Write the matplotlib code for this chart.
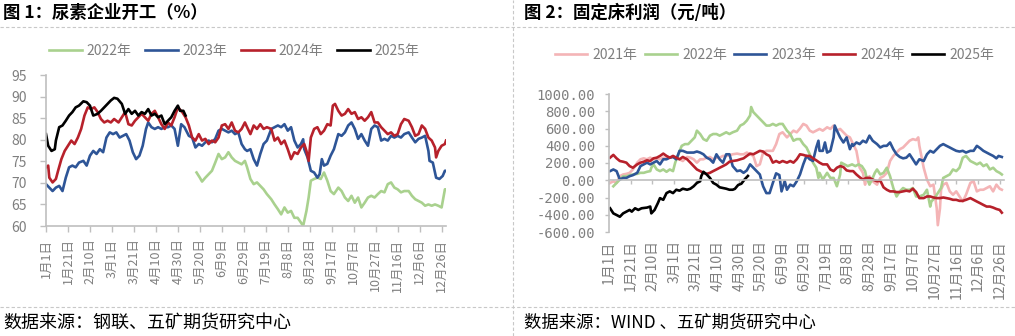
import matplotlib
matplotlib.use("Agg")
import matplotlib.pyplot as plt
from matplotlib.lines import Line2D
from matplotlib.ticker import FormatStrFormatter

plt.rcParams['font.family'] = ['Noto Sans CJK SC', 'DejaVu Sans']

# ---- shared x axis (day of year, leap-year calendar) ----
tick_days = list(range(0, 361, 20))
tick_labels = ["1月1日", "1月21日", "2月10日", "3月1日", "3月21日", "4月10日", "4月30日",
               "5月20日", "6月9日", "6月29日", "7月19日", "8月8日", "8月28日", "9月17日",
               "10月7日", "10月27日", "11月16日", "12月6日", "12月26日"]

# ---- chart 1: urea plant operating rate (%) ----
op22_day = [137, 140, 142, 145, 148, 151, 154, 157, 160, 163, 166, 169, 172, 175, 178, 181, 183,
            186, 189, 192, 195, 198, 201, 205, 208, 211, 214, 217, 220, 223, 226, 229, 232, 234,
            237, 239, 241, 244, 247, 250, 253, 256, 259, 262, 266, 269, 272, 275, 278, 281, 284,
            287, 290, 293, 296, 299, 302, 305, 308, 311, 314, 317, 320, 323, 326, 330, 333, 336,
            339, 342, 345, 348, 351, 354, 357, 360, 363, 364]
op22_val = [72.4, 71.2, 70.3, 71.2, 72.0, 72.8, 74.7, 76.7, 75.5, 75.9, 77.1, 75.9, 75.1, 74.7,
            74.3, 75.1, 73.6, 70.9, 69.7, 70.1, 69.3, 68.5, 67.4, 66.2, 65.0, 63.9, 62.7, 64.3,
            63.1, 63.5, 61.9, 61.9, 60.8, 60.0, 63.5, 66.6, 70.5, 70.9, 71.2, 70.9, 72.4, 70.5,
            68.1, 67.4, 68.9, 68.1, 66.6, 65.8, 67.0, 65.4, 66.6, 64.3, 65.4, 66.6, 67.0, 66.6,
            67.4, 68.1, 67.8, 69.7, 70.1, 68.9, 68.5, 67.8, 68.1, 68.1, 67.0, 66.2, 65.8, 65.4,
            64.7, 65.0, 64.7, 65.0, 64.7, 64.3, 68.5, 68.5]

op23_day = [0, 3, 6, 9, 12, 15, 18, 21, 24, 27, 30, 34, 37, 40, 43, 46, 49, 52, 55, 58, 61, 64,
            67, 70, 73, 76, 79, 82, 85, 88, 91, 93, 96, 99, 102, 105, 108, 111, 114, 117, 120,
            123, 126, 130, 133, 136, 139, 142, 145, 148, 151, 154, 157, 160, 163, 166, 169, 172,
            175, 178, 181, 183, 186, 189, 192, 195, 198, 201, 205, 208, 211, 214, 217, 220, 223,
            226, 229, 232, 234, 235, 238, 241, 244, 247, 249, 251, 253, 256, 259, 262, 266, 269,
            272, 275, 278, 281, 284, 287, 290, 293, 296, 299, 302, 305, 308, 311, 314, 317, 320,
            323, 326, 330, 333, 336, 339, 342, 345, 348, 349, 352, 355, 358, 361, 363, 364]
op23_val = [69.7, 68.9, 68.1, 68.9, 69.3, 68.1, 71.2, 73.6, 74.0, 73.6, 74.7, 75.1, 74.0, 76.3,
            77.4, 76.7, 77.8, 77.1, 80.5, 81.7, 81.3, 81.7, 80.5, 80.9, 81.3, 79.8, 77.1, 75.5,
            76.3, 78.6, 82.5, 84.0, 82.9, 82.5, 82.9, 82.5, 82.9, 82.9, 83.3, 82.5, 78.6, 83.6,
            82.9, 80.9, 80.5, 78.2, 79.0, 78.6, 79.4, 79.8, 79.4, 80.2, 82.1, 82.5, 82.1, 81.7,
            82.1, 81.3, 81.7, 79.0, 77.8, 77.4, 77.8, 75.5, 74.0, 76.7, 79.0, 79.8, 82.5, 82.9,
            83.3, 82.9, 83.6, 82.1, 82.9, 79.8, 78.2, 79.0, 80.1, 77.8, 75.9, 72.8, 72.4, 71.2,
            72.0, 75.5, 74.0, 74.4, 76.3, 77.8, 81.3, 80.9, 81.7, 83.3, 84.0, 82.5, 80.2, 81.3,
            79.8, 78.6, 82.5, 83.3, 82.9, 79.8, 80.2, 79.8, 80.9, 80.5, 80.9, 80.5, 81.3, 81.7,
            80.5, 79.4, 80.2, 80.5, 80.9, 77.4, 75.1, 74.7, 71.2, 70.9, 71.6, 72.8, 72.8]

op24_day = [0, 2, 3, 6, 9, 11, 14, 17, 20, 23, 26, 29, 32, 35, 38, 41, 44, 47, 50, 53, 56, 59,
            62, 66, 69, 72, 75, 78, 81, 84, 87, 90, 93, 96, 99, 102, 105, 108, 111, 114, 117,
            120, 124, 127, 130, 133, 136, 139, 142, 145, 148, 151, 154, 157, 160, 163, 166, 169,
            172, 175, 178, 181, 183, 186, 189, 192, 195, 198, 201, 205, 208, 211, 214, 217, 220,
            223, 226, 229, 232, 235, 237, 239, 241, 244, 247, 250, 253, 256, 259, 261, 263, 266,
            269, 272, 275, 278, 281, 284, 287, 290, 293, 296, 299, 302, 305, 308, 311, 314, 317,
            320, 323, 326, 330, 333, 336, 339, 342, 345, 348, 351, 354, 355, 357, 360, 363, 364]
op24_val = [73.6, 74.0, 71.2, 70.1, 70.9, 72.8, 75.5, 77.4, 78.6, 79.8, 79.0, 80.5, 82.5, 85.6,
            87.5, 87.1, 87.5, 86.4, 84.8, 84.0, 84.4, 84.0, 84.8, 84.0, 85.2, 86.4, 83.6, 83.3,
            84.4, 85.2, 86.0, 85.2, 84.4, 86.0, 86.7, 85.2, 83.6, 82.5, 84.0, 83.3, 85.2, 87.5,
            86.4, 85.2, 83.3, 80.5, 79.8, 81.3, 79.8, 80.2, 79.0, 79.8, 79.4, 80.5, 83.3, 83.6,
            82.5, 84.0, 82.1, 81.7, 82.5, 84.0, 82.9, 81.3, 83.3, 82.5, 83.6, 82.5, 82.9, 82.5,
            79.8, 80.5, 79.0, 79.8, 77.8, 75.5, 77.1, 76.7, 78.2, 79.0, 77.4, 75.1, 80.5, 82.5,
            82.9, 81.3, 82.1, 83.6, 83.3, 87.9, 88.3, 86.7, 85.6, 86.0, 87.1, 86.0, 86.4, 84.8,
            85.2, 84.4, 85.2, 86.4, 84.0, 84.0, 82.9, 82.1, 81.3, 81.7, 80.9, 81.3, 83.6, 84.8,
            84.4, 82.9, 80.9, 81.3, 83.3, 82.5, 80.5, 79.8, 78.2, 75.9, 77.4, 78.6, 79.0, 79.8]

op25_day = [0, 2, 5, 8, 9, 12, 15, 18, 21, 24, 27, 30, 34, 37, 40, 43, 47, 50, 53, 56, 59, 62,
            65, 69, 72, 75, 78, 81, 84, 87, 90, 93, 96, 99, 102, 105, 108, 111, 114, 117, 120,
            122, 125, 127]
op25_val = [81.3, 78.6, 77.4, 77.8, 79.8, 82.9, 83.3, 84.4, 85.6, 86.4, 87.5, 87.9, 88.9, 88.7,
            87.9, 85.6, 86.0, 86.7, 87.5, 88.3, 89.1, 89.7, 89.5, 88.3, 86.0, 87.1, 86.0, 86.7,
            85.6, 86.4, 86.0, 87.1, 85.6, 86.0, 85.2, 85.6, 83.6, 84.4, 85.2, 86.7, 87.9, 86.7,
            86.7, 85.6]

# ---- chart 2: fixed-bed profit (yuan/t) ----
pf21_day = [1, 4, 7, 10, 13, 16, 19, 22, 26, 29, 32, 35, 38, 41, 44, 47, 50, 53, 56, 59, 62, 65,
            68, 72, 75, 78, 81, 84, 87, 90, 93, 96, 99, 102, 105, 108, 111, 114, 118, 121, 124,
            127, 130, 133, 136, 139, 142, 145, 148, 151, 154, 157, 160, 164, 167, 170, 173, 176,
            179, 182, 185, 188, 191, 194, 197, 201, 204, 207, 210, 213, 216, 219, 222, 225, 228,
            230, 231, 234, 236, 237, 239, 240, 243, 247, 250, 253, 256, 259, 262, 265, 268, 271,
            274, 277, 280, 283, 285, 286, 290, 293, 296, 299, 302, 303, 305, 306, 308, 311, 314,
            317, 320, 323, 326, 329, 333, 336, 339, 342, 345, 348, 351, 354, 357, 360, 362]
pf21_val = [-31, -12, -31, 47, 67, 74, 86, 125, 204, 243, 254, 243, 262, 243, 254, 243, 262, 254,
            262, 270, 254, 243, 223, 270, 262, 243, 204, 243, 243, 262, 270, 243, 262, 262, 282,
            282, 290, 301, 309, 301, 301, 321, 301, 282, 164, 184, 321, 341, 341, 341, 419, 536,
            556, 497, 536, 575, 556, 600, 653, 634, 575, 556, 575, 595, 575, 614, 595, 634, 575,
            595, 556, 517, 497, 419, 341, 204, 145, 86, -51, 47, -12, 47, -12, -51, 27, 47, 86,
            223, 282, 321, 360, 380, 419, 458, 477, 466, 497, 399, 145, 8, -70, -51, -325, -521,
            -325, -110, -51, -31, -129, -168, -129, -188, -247, -168, -31, -12, -129, -110, -110,
            -90, -70, -129, -51, -98, -110]

pf22_day = [4, 7, 10, 13, 16, 19, 22, 26, 29, 32, 35, 38, 39, 41, 44, 47, 50, 53, 56, 59, 61, 64,
            67, 70, 73, 76, 79, 81, 84, 87, 90, 93, 96, 99, 102, 105, 108, 111, 114, 118, 121,
            124, 127, 130, 131, 133, 136, 139, 142, 145, 148, 151, 154, 157, 160, 164, 167, 170,
            173, 176, 179, 182, 185, 188, 191, 193, 194, 197, 201, 204, 207, 210, 213, 214, 217,
            220, 224, 227, 230, 233, 236, 237, 240, 243, 245, 247, 250, 253, 256, 259, 262, 265,
            268, 271, 274, 277, 280, 283, 286, 290, 293, 296, 297, 300, 303, 306, 308, 311, 314,
            317, 320, 323, 326, 329, 333, 336, 339, 342, 345, 348, 351, 354, 357, 360, 362]
pf22_val = [-70, -31, 8, 47, 47, 59, 67, 74, 86, 86, 98, 106, 145, 184, 125, 106, 125, 98, 125,
            106, 204, 301, 399, 419, 419, 458, 497, 575, 536, 477, 458, 517, 536, 536, 517, 536,
            556, 536, 556, 575, 634, 653, 692, 751, 849, 790, 751, 712, 673, 634, 634, 653, 634,
            653, 653, 575, 536, 458, 477, 477, 419, 380, 301, 204, 145, 27, 86, 8, 86, 27, 27,
            -70, 67, 204, 184, 164, 184, 164, 184, 164, 106, 47, -51, 27, 86, 125, 67, 86, 145,
            47, -90, -188, -129, -90, -110, -110, -90, -188, -188, -168, -110, -305, -247, -207,
            -149, -90, 27, 47, 67, 125, 106, 145, 262, 282, 223, 204, 184, 204, 164, 184, 125,
            145, 106, 86, 67]

pf23_day = [1, 4, 7, 10, 13, 16, 19, 22, 26, 29, 32, 35, 38, 41, 44, 47, 50, 53, 56, 59, 62, 65,
            68, 72, 75, 78, 81, 84, 87, 90, 93, 96, 99, 102, 105, 108, 111, 114, 118, 121, 124,
            127, 130, 133, 136, 139, 142, 145, 148, 151, 154, 157, 159, 162, 164, 167, 170, 173,
            176, 179, 182, 185, 188, 191, 193, 194, 197, 199, 201, 204, 207, 208, 210, 213, 216,
            219, 222, 224, 225, 228, 231, 234, 237, 240, 243, 247, 250, 253, 256, 259, 262, 265,
            268, 271, 274, 277, 280, 283, 286, 290, 293, 296, 299, 302, 305, 308, 311, 314, 317,
            320, 323, 326, 329, 333, 336, 339, 342, 345, 348, 351, 354, 357, 359, 362]
pf23_val = [106, 125, 106, 8, 27, 27, 47, 59, 86, 164, 184, 204, 184, 204, 223, 184, 243, 243,
            262, 270, 243, 341, 341, 321, 321, 321, 333, 321, 301, 262, 243, 204, 301, 243, 204,
            301, 301, 164, 106, 114, 86, 114, 184, 145, 106, 67, -70, -149, -149, -31, 80, 60,
            -129, -12, -110, -51, -70, -12, 67, 184, 282, 243, 223, 380, 458, 341, 341, 438, 321,
            341, 497, 634, 575, 497, 438, 497, 360, 419, 399, 438, 419, 458, 438, 517, 458, 419,
            380, 399, 399, 438, 360, 301, 270, 254, 262, 301, 243, 184, 243, 223, 301, 341, 321,
            360, 399, 419, 399, 380, 360, 341, 333, 341, 321, 341, 341, 399, 372, 341, 321, 301,
            282, 254, 282, 270]

pf24_day = [1, 4, 7, 10, 13, 16, 19, 22, 26, 29, 32, 35, 38, 41, 44, 47, 50, 53, 56, 59, 62, 65,
            68, 72, 75, 78, 81, 84, 87, 90, 93, 96, 99, 102, 105, 108, 111, 114, 118, 121, 124,
            127, 130, 133, 136, 139, 142, 145, 148, 151, 154, 157, 160, 164, 167, 170, 173, 176,
            179, 182, 185, 188, 191, 194, 197, 201, 204, 207, 210, 213, 216, 219, 222, 225, 228,
            231, 234, 237, 240, 243, 247, 250, 253, 256, 259, 262, 265, 268, 271, 274, 277, 280,
            283, 286, 290, 293, 296, 299, 302, 305, 308, 311, 314, 317, 320, 323, 326, 329, 333,
            336, 339, 342, 345, 348, 351, 354, 357, 360, 362]
pf24_val = [262, 294, 254, 223, 215, 204, 164, 145, 184, 204, 215, 231, 223, 254, 262, 282, 309,
            282, 262, 282, 262, 243, 270, 243, 204, 164, 125, 106, 86, 74, 86, 106, 125, 145, 164,
            184, 215, 223, 231, 243, 254, 282, 309, 301, 321, 341, 333, 301, 282, 204, 223, 204,
            223, 204, 223, 204, 243, 301, 294, 282, 282, 254, 231, 204, 184, 184, 125, 106, 145,
            164, 153, 114, 106, 106, 67, 35, 8, 27, 27, 8, -12, -4, -82, -110, -129, -129, -137,
            -137, -129, -121, -129, -98, -137, -207, -207, -188, -188, -200, -207, -207, -200,
            -207, -215, -227, -227, -239, -239, -227, -207, -227, -247, -266, -286, -305, -305,
            -317, -333, -344, -376]

pf25_day = [1, 4, 7, 10, 13, 16, 19, 21, 24, 27, 30, 35, 38, 39, 42, 45, 47, 50, 53, 56, 59, 62,
            65, 68, 72, 75, 78, 81, 84, 85, 87, 90, 93, 96, 99, 102, 105, 108, 111, 114, 116, 119,
            122, 125, 128]
pf25_val = [-325, -384, -403, -423, -384, -364, -344, -364, -325, -344, -325, -317, -305, -384,
            -344, -266, -207, -227, -149, -129, -149, -110, -121, -98, -110, -98, -70, -31, -12,
            47, 98, 67, 27, -31, -51, -82, -90, -98, -110, -110, -100, -55, -40, 10, 50]

C_PINK = "#F4B4B6"
C_GREEN = "#A9D18E"
C_BLUE = "#2E5597"
C_RED = "#B7212B"
C_BLACK = "#000000"
GRAY_TXT = "#7F7F7F"
GRAY_AX = "#BFBFBF"

W, H = 1015, 336
fig = plt.figure(figsize=(W / 100, H / 100), dpi=100)


def px_axes(x0, y0, x1, y1):
    return fig.add_axes([x0 / W, 1 - y1 / H, (x1 - x0) / W, (y1 - y0) / H])


def style_axes(ax):
    for s in ("top", "right"):
        ax.spines[s].set_visible(False)
    for s in ("left", "bottom"):
        ax.spines[s].set_color(GRAY_AX)
        ax.spines[s].set_linewidth(1.2)
    ax.set_xlim(0, 364)
    ax.tick_params(colors=GRAY_AX, labelcolor=GRAY_TXT, width=1.0)


def set_day_ticks(ax, size):
    ax.set_xticks(tick_days)
    ax.set_xticklabels(tick_labels)
    ax.tick_params(axis="x", labelrotation=90, labelsize=size, labelcolor=GRAY_TXT)


# ---- chart 1 ----
ax1 = px_axes(46, 75, 446, 226)
lw = 1.9
ax1.plot(op22_day, op22_val, color=C_GREEN, lw=lw, label="2022年")
ax1.plot(op23_day, op23_val, color=C_BLUE, lw=lw, label="2023年")
ax1.plot(op24_day, op24_val, color=C_RED, lw=lw, label="2024年")
ax1.plot(op25_day, op25_val, color=C_BLACK, lw=lw, label="2025年")
style_axes(ax1)
ax1.set_ylim(60, 95)
ax1.set_yticks(range(60, 96, 5))
ax1.tick_params(axis="y", length=4, pad=10, labelsize=10)
set_day_ticks(ax1, 9)
ax1.tick_params(axis="x", length=4, pad=5)
ax1.legend(loc="center", bbox_to_anchor=(234 / W, 1 - 51 / H), bbox_transform=fig.transFigure,
           ncol=4, frameon=False, fontsize=10, labelcolor=GRAY_TXT, handlelength=2.4,
           handletextpad=0.3, columnspacing=1.0)

# ---- chart 2 ----
ax2 = px_axes(609, 94, 1004, 232)
ax2.plot(pf21_day, pf21_val, color=C_PINK, lw=lw, label="2021年")
ax2.plot(pf22_day, pf22_val, color=C_GREEN, lw=lw, label="2022年")
ax2.plot(pf23_day, pf23_val, color=C_BLUE, lw=lw, label="2023年")
ax2.plot(pf24_day, pf24_val, color=C_RED, lw=lw, label="2024年")
ax2.plot(pf25_day, pf25_val, color=C_BLACK, lw=lw, label="2025年")
style_axes(ax2)
# x axis line sits on zero, labels stay under the plot
ax2.spines["bottom"].set_position(("data", 0))
ax2.set_ylim(-600, 1000)
ax2.set_yticks(range(-600, 1001, 200))
ax2.yaxis.set_major_formatter(FormatStrFormatter("%.2f"))
ax2.tick_params(axis="y", length=3, pad=7, labelsize=10)
for t in ax2.get_yticklabels():
    t.set_family("DejaVu Sans Mono")
set_day_ticks(ax2, 10)
zero_frac = (0 - (-600)) / 1600
pad_pt = zero_frac * (232 - 94) * 0.72 + 3
ax2.tick_params(axis="x", length=3, pad=pad_pt)
ax2.legend(loc="center", bbox_to_anchor=(775 / W, 1 - 55 / H), bbox_transform=fig.transFigure,
           ncol=5, frameon=False, fontsize=10, labelcolor=GRAY_TXT, handlelength=2.3,
           handletextpad=0.4, columnspacing=0.5)

# ---- titles, sources, separators ----
fig.text(3 / W, 1 - 13 / H, "图 1：尿素企业开工（%）", fontsize=12.5, fontweight="bold", va="center")
fig.text(524 / W, 1 - 13 / H, "图 2：固定床利润（元/吨）", fontsize=12.5, fontweight="bold", va="center")
fig.text(3 / W, 1 - 323 / H, "数据来源：钢联、五矿期货研究中心", fontsize=13, va="center")
fig.text(524 / W, 1 - 323 / H, "数据来源：WIND 、五矿期货研究中心", fontsize=12.5, va="center")

dash = dict(color="#C8C8C8", lw=0.8, ls=(0, (3, 2)), transform=fig.transFigure)
fig.add_artist(Line2D([0, 1], [1 - 27 / H, 1 - 27 / H], **dash))
fig.add_artist(Line2D([0, 1], [1 - 307 / H, 1 - 307 / H], **dash))
fig.add_artist(Line2D([513 / W, 513 / W], [0, 1], **dash))

fig.savefig("out.png", dpi=100)
